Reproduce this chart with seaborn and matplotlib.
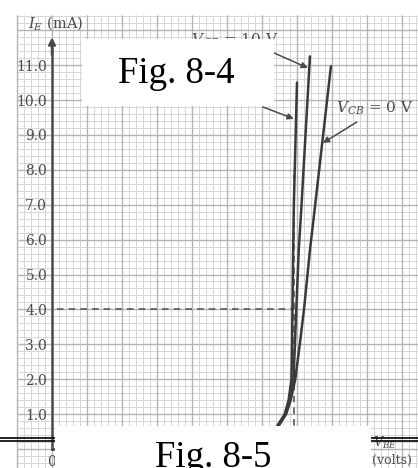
import numpy as np
import pandas as pd
import matplotlib
matplotlib.use("Agg")
import matplotlib.pyplot as plt
import seaborn as sns
from matplotlib.patches import Rectangle
from matplotlib.lines import Line2D

# ---------------- data ----------------
curve_names = ["V_CB = 20 V", "V_CB = 10 V", "V_CB = 0 V"]
vbe_20 = [0.600, 0.625, 0.646, 0.665, 0.676, 0.684, 0.686, 0.687, 0.689, 0.691, 0.700]
ie_20 = [0.10, 0.35, 0.70, 1.00, 1.40, 2.00, 3.00, 4.00, 5.70, 7.00, 10.50]
vbe_10 = [0.600, 0.628, 0.648, 0.667, 0.679, 0.690, 0.694, 0.698, 0.705, 0.713, 0.737]
ie_10 = [0.08, 0.35, 0.70, 1.00, 1.40, 2.00, 3.00, 4.00, 5.70, 7.00, 11.25]
vbe_0 = [0.600, 0.630, 0.650, 0.669, 0.682, 0.695, 0.708, 0.720, 0.737, 0.752, 0.797]
ie_0 = [0.06, 0.35, 0.70, 1.00, 1.40, 2.00, 3.00, 4.00, 5.70, 7.00, 10.97]

y_ticks = [1, 2, 3, 4, 5, 6, 7, 8, 9, 10, 11]
y_tick_labels = ["1.0", "2.0", "3.0", "4.0", "5.0", "6.0", "7.0", "8.0", "9.0", "10.0", "11.0"]
x_ticks = [0.0]
x_tick_labels = ["0"]

ie_q = 4.0      # dashed operating-point current
vbe_q = 0.692   # dashed operating-point voltage

df = pd.DataFrame({
    "V_BE": vbe_20 + vbe_10 + vbe_0,
    "I_E": ie_20 + ie_10 + ie_0,
    "curve": [curve_names[0]] * len(vbe_20) + [curve_names[1]] * len(vbe_10)
             + [curve_names[2]] * len(vbe_0),
})

# ---------------- style ----------------
sns.set_style("white")
plt.rcParams["font.family"] = ["DejaVu Serif", "DejaVu Sans"]
plt.rcParams["mathtext.fontset"] = "dejavuserif"

ink = "#4a4a4a"
W, H = 418, 468
fig = plt.figure(figsize=(W / 100, H / 100), dpi=100)
fig.patch.set_facecolor("white")
ax = fig.add_axes([15 / W, 0, 403 / W, 458 / H])
ax.set_facecolor("white")
ax.set_xlim(-0.10571, 1.04571)
ax.set_ylim(-0.5444, 12.579)

# graph-paper grid
xmin, xmax = ax.get_xlim()
ymin, ymax = ax.get_ylim()
minor_x = np.arange(-0.10, 1.05, 0.02)
major_x = np.arange(-0.10, 1.05, 0.10)
minor_y = np.arange(-0.4, 12.5, 0.2)
major_y = np.arange(0.0, 12.5, 1.0)
ax.vlines(minor_x, ymin, 12.45, color="#d6d6d6", lw=0.7, zorder=0)
ax.hlines(minor_y, -0.10, xmax, color="#d6d6d6", lw=0.7, zorder=0)
ax.vlines(major_x, ymin, 12.45, color="#b4b4b4", lw=1.0, zorder=0)
ax.hlines(major_y, -0.10, xmax, color="#b4b4b4", lw=1.0, zorder=0)

# curves
sns.lineplot(data=df, x="V_BE", y="I_E", hue="curve", palette=["#3a3a3a"] * 3,
             sort=False, estimator=None, legend=False, lw=1.8, ax=ax, zorder=3)

# dashed operating point lines
ax.plot([0.015, vbe_q], [ie_q, ie_q], ls=(0, (4, 3)), color="#5a5a5a", lw=1.2, zorder=2)
ax.plot([vbe_q, vbe_q], [0, 8.0], ls=(0, (4, 3)), color="#5a5a5a", lw=1.2, zorder=2)

# axes / spines
for s in ["top", "right"]:
    ax.spines[s].set_visible(False)
for s in ["left", "bottom"]:
    ax.spines[s].set_position(("data", 0))
    ax.spines[s].set_color(ink)
    ax.spines[s].set_linewidth(1.8)
ax.spines["left"].set_bounds(0, 11.5)
ax.spines["bottom"].set_bounds(0, 0.9)
ax.annotate("", xy=(0, 11.8), xytext=(0, 11.3),
            arrowprops=dict(arrowstyle="-|>", color=ink, lw=1.8, mutation_scale=10,
                            shrinkA=0, shrinkB=0))

ax.set_yticks(y_ticks)
ax.set_yticklabels(y_tick_labels)
ax.set_xticks(x_ticks)
ax.set_xticklabels(x_tick_labels)
ax.tick_params(axis="y", direction="in", length=7, width=1.5, color=ink,
               labelsize=10, labelcolor=ink, pad=3.5)
ax.tick_params(axis="x", direction="in", length=7, width=1.5, color=ink,
               labelsize=10, labelcolor=ink, pad=4)
ax.set_xlabel("")
ax.set_ylabel("")

# labels
ax.text(-0.0686, 12.21, r"$I_E$ (mA)", ha="left", va="center", fontsize=10.5, color=ink)
ax.text(0.523, 11.70, r"$V_{CB}$ = 10 V", ha="center", va="center", fontsize=11, color=ink)
ax.text(0.923, 9.77, r"$V_{CB}$ = 0 V", ha="center", va="center", fontsize=11, color=ink)
ax.text(0.423, 10.0, r"$V_{CB}$ = 20 V", ha="center", va="center", fontsize=11, color=ink)
ax.text(0.951, 0.17, r"$V_{BE}$", ha="center", va="center", fontsize=9, color=ink)
ax.text(0.971, -0.315, "(volts)", ha="center", va="center", fontsize=9, color=ink)

arrow_kw = dict(arrowstyle="-|>", color=ink, lw=1.1, mutation_scale=9, shrinkA=0, shrinkB=0)
ax.annotate("", xy=(0.731, 10.92), xytext=(0.634, 11.35), arrowprops=arrow_kw)
ax.annotate("", xy=(0.691, 9.46), xytext=(0.603, 9.80), arrowprops=arrow_kw)
ax.annotate("", xy=(0.774, 8.77), xytext=(0.871, 9.37), arrowprops=arrow_kw)

# page separator double line
for ypx in (437.5, 440.5):
    fig.add_artist(Line2D([0, 1], [1 - ypx / H] * 2, transform=fig.transFigure,
                          color="#111111", lw=1.3, zorder=4))

# caption boxes
fig.add_artist(Rectangle((82 / W, 1 - 106 / H), 192 / W, 67 / H, transform=fig.transFigure,
                         facecolor="white", edgecolor="none", zorder=5))
fig.text(176.5 / W, 1 - 83 / H, "Fig. 8-4", ha="center", va="baseline",
         family="Liberation Serif", fontsize=26.5, color="black", zorder=6)
fig.add_artist(Rectangle((55 / W, 0), 316 / W, 42 / H, transform=fig.transFigure,
                         facecolor="white", edgecolor="none", zorder=5))
fig.text(213.5 / W, 1 - 467 / H, "Fig. 8-5", ha="center", va="baseline",
         family="Liberation Serif", fontsize=26.5, color="black", zorder=6)

fig.savefig("out.png", dpi=100, facecolor="white")
